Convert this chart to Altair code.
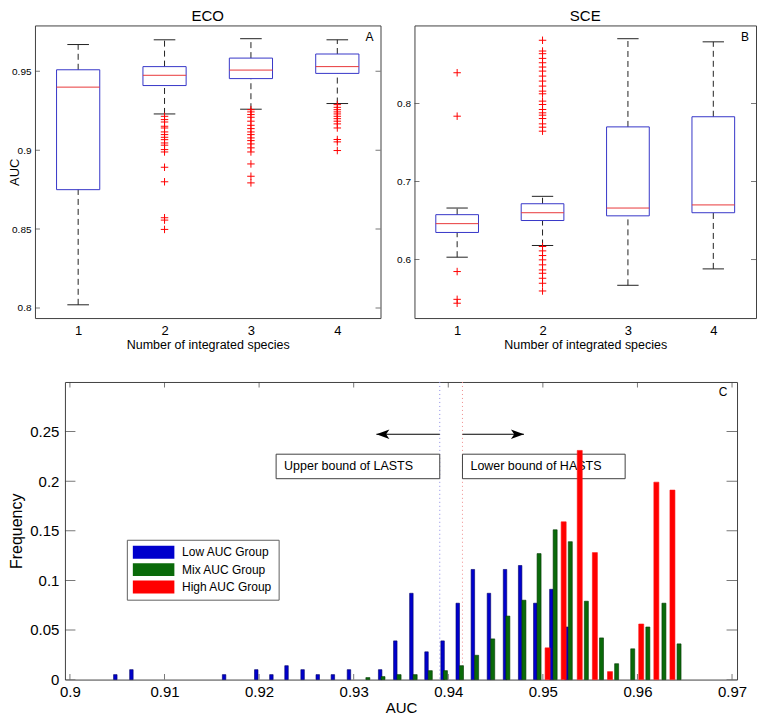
import altair as alt
import pandas as pd

FONT = "Liberation Sans"

# ---------------- Panel A (ECO) box-plot summaries ----------------
species = [1, 2, 3, 4]
eco_whisker_low = [0.802, 0.923, 0.926, 0.9296]
eco_q1 = [0.875, 0.941, 0.9454, 0.9487]
eco_median = [0.940, 0.9475, 0.9508, 0.953]
eco_q3 = [0.951, 0.953, 0.9584, 0.961]
eco_whisker_high = [0.967, 0.970, 0.9707, 0.970]
eco_out_1 = []
eco_out_2 = [0.9215, 0.9194, 0.9179, 0.9152, 0.9141, 0.9116, 0.9099, 0.9082, 0.9067,
             0.9046, 0.9032, 0.9004, 0.8989, 0.8892, 0.8800, 0.8572, 0.8557, 0.8498]
eco_out_3 = [0.9257, 0.9243, 0.9226, 0.9209, 0.9184, 0.9158, 0.9137, 0.9116, 0.9099,
             0.9078, 0.9061, 0.9040, 0.9015, 0.8989, 0.8913, 0.8835, 0.8793]
eco_out_4 = [0.9289, 0.9272, 0.9257, 0.9243, 0.9230, 0.9215, 0.9200, 0.9184, 0.9167,
             0.9141, 0.9068, 0.9053, 0.8998]
eco_yticks = [0.8, 0.85, 0.9, 0.95]
eco_ydomain = [0.7936, 0.9791]

# ---------------- Panel B (SCE) box-plot summaries ----------------
sce_whisker_low = [0.603, 0.618, 0.567, 0.588]
sce_q1 = [0.6347, 0.650, 0.656, 0.660]
sce_median = [0.646, 0.660, 0.666, 0.670]
sce_q3 = [0.6575, 0.6715, 0.770, 0.783]
sce_whisker_high = [0.666, 0.681, 0.883, 0.879]
sce_out_1 = [0.8394, 0.7837, 0.5846, 0.5490, 0.5440]
sce_out_2 = [0.8810, 0.8672, 0.8638, 0.8578, 0.8522, 0.8467, 0.8415, 0.8351, 0.8287,
             0.8223, 0.8158, 0.8124, 0.8030, 0.7987, 0.7923, 0.7880, 0.7850, 0.7807,
             0.7739, 0.7696, 0.7645, 0.6167, 0.6111, 0.6051, 0.5996, 0.5932, 0.5867,
             0.5824, 0.5760, 0.5696, 0.5597]
sce_out_3 = []
sce_out_4 = []
sce_yticks = [0.6, 0.7, 0.8]
sce_ydomain = [0.525, 0.900]

# ---------------- Panel C histogram ----------------
groups = ["Low AUC Group", "Mix AUC Group", "High AUC Group"]
low_auc = [0.9048, 0.9065, 0.9163, 0.9197, 0.9213, 0.9229, 0.9246, 0.9262, 0.9278,
           0.9295, 0.9328, 0.9344, 0.9361, 0.9377, 0.9394, 0.9410, 0.9426, 0.9443,
           0.9460, 0.9476, 0.9492, 0.9509, 0.9525]
low_freq = [0.005, 0.010, 0.005, 0.010, 0.005, 0.014, 0.010, 0.005, 0.005,
            0.010, 0.010, 0.039, 0.087, 0.028, 0.039, 0.077, 0.111, 0.087,
            0.111, 0.115, 0.077, 0.091, 0.053]
mix_auc = [0.9315, 0.9331, 0.9348, 0.9365, 0.9381, 0.9397, 0.9414, 0.9430, 0.9447,
           0.9463, 0.9480, 0.9496, 0.9513, 0.9529, 0.9546, 0.9562, 0.9578, 0.9595,
           0.9611, 0.9628, 0.9644]
mix_freq = [0.002, 0.003, 0.005, 0.005, 0.009, 0.009, 0.014, 0.0245, 0.041,
            0.064, 0.080, 0.127, 0.151, 0.139, 0.079, 0.042, 0.016, 0.031,
            0.053, 0.077, 0.036]
high_auc = [0.9505, 0.9522, 0.9539, 0.9555, 0.9571, 0.9604, 0.9620, 0.9637]
high_freq = [0.032, 0.159, 0.231, 0.128, 0.008, 0.056, 0.199, 0.191]

c_xticks = [0.9, 0.91, 0.92, 0.93, 0.94, 0.95, 0.96, 0.97]
c_yticks = [0, 0.05, 0.1, 0.15, 0.2, 0.25]
c_xdomain = [0.9, 0.97]
c_ydomain = [0, 0.3]

lasts_bound = 0.9391
hasts_bound = 0.9415
arrow_y = 0.2473
arrow_left_tip = 0.9324
arrow_right_tip = 0.9480
box_labels = ["Upper bound of LASTS", "Lower bound of HASTS"]
box_x0 = [0.9218, 0.9415]
box_x1 = [0.9391, 0.9587]
box_y0 = [0.2025, 0.2025]
box_y1 = [0.2272, 0.2272]

# ---------------- styles ----------------
bar_fill = ["#0000cc", "#0a6a0a", "#ff0000"]
bar_edge = ["#000066", "#033803", "#ff1010"]
bar_width = [3.5, 4, 5]
PLUS = "M-1,0H1M0,-1V1"
ARROW_L = "M0,0L2,-0.75L1.5,0L2,0.75Z"
ARROW_R = "M0,0L-2,-0.75L-1.5,0L-2,0.75Z"
FRAME = "#404040"

WA, WB, H1 = 346, 342, 293
WC, HC = 673, 298
C_SHIFT = 30


def box_panel(title, letter, lo, q1, med, q3, hi, outs, ydom, yvals, w, h, ytitle, ykw):
    summ = pd.DataFrame({"s": species, "lo": lo, "q1": q1, "med": med, "q3": q3, "hi": hi})
    orows = [(s, v) for s, vals in zip(species, outs) for v in vals]
    odf = pd.DataFrame(orows, columns=["s", "v"])
    xs = alt.Scale(domain=[0.5, 4.5], nice=False, zero=False)
    ys = alt.Scale(domain=ydom, nice=False, zero=False)
    xt = "Number of integrated species"
    xax = alt.Axis(values=species, format="d", labelFontSize=13, labelPadding=6,
                   titleFontSize=12.5, titlePadding=1, labelFlush=False)
    yax = alt.Axis(values=yvals, format="~g", labelFontSize=10, labelPadding=4,
                   labelFlush=False, **ykw)

    def X(f):
        return alt.X(f, scale=xs, axis=xax, title=xt)

    def Y(f):
        return alt.Y(f, scale=ys, axis=yax, title=ytitle)

    base = alt.Chart(summ)
    wide = base.transform_calculate(a="datum.s - 0.25", b="datum.s + 0.25",
                                    ca="datum.s - 0.125", cb="datum.s + 0.125")
    dash = dict(strokeDash=[6, 4], color="#222222", strokeWidth=1)
    upper = base.mark_rule(**dash).encode(x=X("s:Q"), y=Y("q3:Q"), y2="hi:Q")
    lower = base.mark_rule(**dash).encode(x=X("s:Q"), y=Y("lo:Q"), y2="q1:Q")
    cap_hi = wide.mark_rule(color="#222222").encode(x=X("ca:Q"), x2="cb:Q", y=Y("hi:Q"))
    cap_lo = wide.mark_rule(color="#222222").encode(x=X("ca:Q"), x2="cb:Q", y=Y("lo:Q"))
    box = wide.mark_rect(fillOpacity=0, stroke="#3636c8", strokeWidth=1).encode(
        x=X("a:Q"), x2="b:Q", y=Y("q1:Q"), y2="q3:Q")
    medl = wide.mark_rule(color="#e8383a", strokeWidth=1).encode(x=X("a:Q"), x2="b:Q", y=Y("med:Q"))
    pts = alt.Chart(odf).mark_point(shape=PLUS, size=56, filled=False, color="#ff0000",
                                    strokeWidth=1, opacity=1).encode(x=X("s:Q"), y=Y("v:Q"))
    ytk = pd.DataFrame({"v": yvals})
    tick = dict(orient="horizontal", size=10, thickness=1, color=FRAME, clip=True)
    tl = alt.Chart(ytk).mark_tick(**tick).encode(x=alt.datum(0.5), y=Y("v:Q"))
    tr = alt.Chart(ytk).mark_tick(**tick).encode(x=alt.datum(4.5), y=Y("v:Q"))
    lab = alt.Chart(pd.DataFrame({"t": [letter]})).mark_text(
        fontSize=12, font=FONT, color="#000", baseline="middle").encode(
        x=alt.value(w - 11), y=alt.value(12), text="t:N")
    return alt.layer(upper, lower, cap_hi, cap_lo, box, medl, pts, tl, tr, lab).properties(
        width=w, height=h,
        title=alt.TitleParams(title, fontSize=15, font=FONT, fontWeight="normal",
                              offset=1, color="#000"))


panel_a = box_panel("ECO", "A", eco_whisker_low, eco_q1, eco_median, eco_q3, eco_whisker_high,
                    [eco_out_1, eco_out_2, eco_out_3, eco_out_4], eco_ydomain, eco_yticks,
                    WA, H1, "AUC",
                    dict(titleFontSize=13, titlePadding=0, minExtent=13, maxExtent=13))
panel_b = box_panel("SCE", "B", sce_whisker_low, sce_q1, sce_median, sce_q3, sce_whisker_high,
                    [sce_out_1, sce_out_2, sce_out_3, sce_out_4], sce_ydomain, sce_yticks,
                    WB, H1, None, dict())

# ---------------- Panel C ----------------
rows = []
for g, xs_, fs_ in zip(groups, [low_auc, mix_auc, high_auc], [low_freq, mix_freq, high_freq]):
    rows += [{"auc": a, "freq": f, "group": g} for a, f in zip(xs_, fs_)]
bars_df = pd.DataFrame(rows)

xsc = alt.Scale(domain=c_xdomain, nice=False, zero=False)
ysc = alt.Scale(domain=c_ydomain, nice=False, zero=False)
xax_c = alt.Axis(values=c_xticks, format="~g", labelFontSize=15, labelPadding=5,
                 titleFontSize=15, titlePadding=1, labelFlush=False)
yax_c = alt.Axis(values=c_yticks, format="~g", labelFontSize=15, labelPadding=6,
                 titleFontSize=16, titlePadding=2, minExtent=38, maxExtent=38, labelFlush=False)


def XC(f):
    return alt.X(f, scale=xsc, axis=xax_c, title="AUC")


def YC(f):
    return alt.Y(f, scale=ysc, axis=yax_c, title="Frequency")


rule_l = alt.Chart(pd.DataFrame({"x": [lasts_bound]})).mark_rule(
    color="#8c8ce6", strokeDash=[1, 3], strokeWidth=1).encode(x=XC("x:Q"))
rule_h = alt.Chart(pd.DataFrame({"x": [hasts_bound]})).mark_rule(
    color="#f08c8c", strokeDash=[1, 3], strokeWidth=1).encode(x=XC("x:Q"))

boxes_df = pd.DataFrame({"label": box_labels, "x0": box_x0, "x1": box_x1, "y0": box_y0, "y1": box_y1})
boxes = alt.Chart(boxes_df).mark_rect(fill="white", stroke="#404040", strokeWidth=1).encode(
    x=XC("x0:Q"), x2="x1:Q", y=YC("y0:Q"), y2="y1:Q")
box_text = alt.Chart(boxes_df).transform_calculate(ym="(datum.y0 + datum.y1) / 2").mark_text(
    align="left", baseline="middle", dx=8, fontSize=12.5, font=FONT, color="#000").encode(
    x=XC("x0:Q"), y=YC("ym:Q"), text="label:N")

arrows_df = pd.DataFrame({"start": [lasts_bound, hasts_bound],
                          "tip": [arrow_left_tip, arrow_right_tip],
                          "y": [arrow_y, arrow_y]})
arrow_lines = alt.Chart(arrows_df).mark_rule(color="#000", strokeWidth=1).encode(
    x=XC("start:Q"), x2="tip:Q", y=YC("y:Q"))
head_l = alt.Chart(pd.DataFrame({"tip": [arrow_left_tip], "y": [arrow_y]})).mark_point(
    shape=ARROW_L, size=169, filled=True, color="#000", opacity=1).encode(x=XC("tip:Q"), y=YC("y:Q"))
head_r = alt.Chart(pd.DataFrame({"tip": [arrow_right_tip], "y": [arrow_y]})).mark_point(
    shape=ARROW_R, size=169, filled=True, color="#000", opacity=1).encode(x=XC("tip:Q"), y=YC("y:Q"))

color_enc = alt.Color(
    "group:N", scale=alt.Scale(domain=groups, range=bar_fill),
    legend=alt.Legend(title=None, orient="none", legendX=62, legendY=158,
                      symbolType="M-3.2,-1H3.2V1H-3.2Z", symbolSize=169,
                      symbolStrokeWidth=0, symbolOffset=14.3, labelOffset=22,
                      labelFontSize=12, labelFont=FONT, labelColor="#000",
                      padding=6, fillColor="white", strokeColor="#606060",
                      rowPadding=4.4, symbolOpacity=1))

bar_layers = []
for g, edge, wdt in zip(groups, bar_edge, bar_width):
    bar_layers.append(
        alt.Chart(bars_df).transform_filter(alt.datum.group == g).mark_bar(
            orient="vertical", size=wdt, stroke=edge, strokeWidth=0.6).encode(
            x=XC("auc:Q"), y=YC("freq:Q"), color=color_enc))

cyt = pd.DataFrame({"v": c_yticks})
cxt = pd.DataFrame({"v": c_xticks})
htick = dict(orient="horizontal", size=11, thickness=1, color=FRAME, clip=True)
vtick = dict(orient="vertical", size=11, thickness=1, color=FRAME, clip=True)
c_tl = alt.Chart(cyt).mark_tick(**htick).encode(x=alt.datum(c_xdomain[0]), y=YC("v:Q"))
c_tr = alt.Chart(cyt).mark_tick(**htick).encode(x=alt.datum(c_xdomain[1]), y=YC("v:Q"))
c_tb = alt.Chart(cxt).mark_tick(**vtick).encode(x=XC("v:Q"), y=alt.datum(c_ydomain[0]))
c_tt = alt.Chart(cxt).mark_tick(**vtick).encode(x=XC("v:Q"), y=alt.datum(c_ydomain[1]))
c_lab = alt.Chart(pd.DataFrame({"t": ["C"]})).mark_text(
    fontSize=12, font=FONT, color="#000", baseline="middle").encode(
    x=alt.value(WC - 14), y=alt.value(10), text="t:N")

panel_c = alt.layer(rule_l, rule_h, boxes, box_text, arrow_lines, head_l, head_r, *bar_layers,
                    c_tl, c_tr, c_tb, c_tt, c_lab).properties(width=WC, height=HC)

# invisible spacer that shifts panel C right of panel A's plot origin
spacer = alt.Chart(pd.DataFrame({"v": [0]})).mark_point(opacity=0).encode(
    x=alt.value(0), y=alt.value(0)).properties(
    width=C_SHIFT, height=10, view=alt.ViewBackground(strokeOpacity=0))

top = alt.hconcat(panel_a, panel_b, spacing=14)
bottom = alt.hconcat(spacer, panel_c, spacing=0, bounds="flush").resolve_scale(
    color="independent").resolve_legend(color="independent")

chart = alt.vconcat(top, bottom, spacing=28).properties(
    padding=0, background="white"
).resolve_scale(color="independent").resolve_legend(color="independent").configure_view(
    stroke=FRAME, strokeWidth=1
).configure_axis(
    labelFont=FONT, titleFont=FONT, labelColor="#000", titleColor="#000",
    ticks=False, domain=False, grid=False, titleFontWeight="normal"
).configure_text(font=FONT)

chart.save("out.html", embed_options={"renderer": "svg", "actions": False})
